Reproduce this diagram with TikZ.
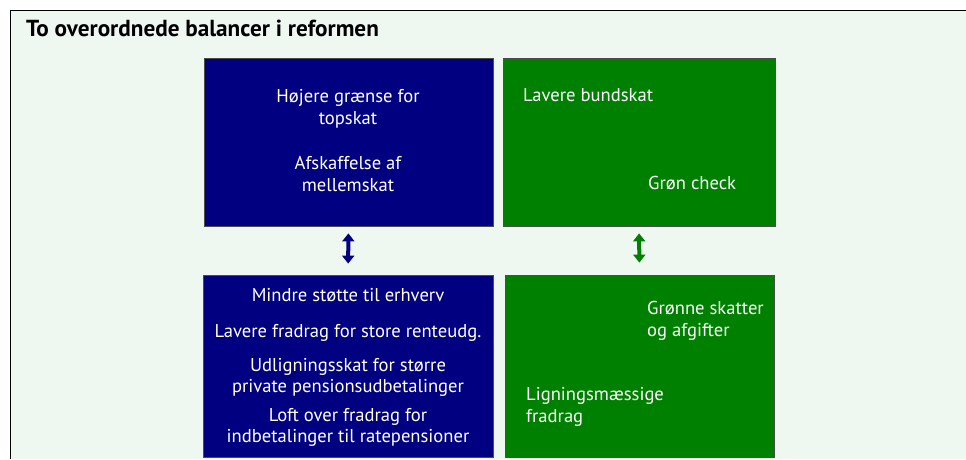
\documentclass[tikz,border=0pt]{standalone}
\usepackage{fontspec}
\setmainfont{PT Sans}
\usetikzlibrary{arrows.meta}
\definecolor{panel}{RGB}{239,247,241}
\definecolor{darkblue}{RGB}{0,0,128}
\definecolor{darkgreen}{RGB}{0,128,0}
\pgfdeclarelayer{bg}
\pgfsetlayers{bg,main}
\tikzset{
    box/.style={draw=black!70, line width=0.8pt, inner sep=0mm},
    bluebox/.style={box, fill=darkblue},
    greenbox/.style={box, fill=darkgreen},
    boxtext/.style={inner sep=0mm, text=white, font=\fontsize{18.6}{21.5}\selectfont},
    balance/.style={line width=4pt, {Triangle[width=12pt,length=8pt]}-{Triangle[width=12pt,length=8pt]}}
}

\begin{document}
\begin{tikzpicture}[x=1pt, y=1pt]
    \useasboundingbox (0,0) rectangle (966,459);
    \fill[white] (0,0) rectangle (966,459);
    \fill[panel] (10,0) rectangle (966,449);
    \draw[line width=0.8pt] (10,0) -- (10,449) -- (966,449);

    \node (title) at (26, 431) [anchor=west, inner sep=0mm, font=\fontsize{23.2}{26}\selectfont\bfseries] {To overordnede balancer i reformen};

    \node (topblue) at (348.5, 317) [bluebox, minimum width=289pt, minimum height=168pt] {};
    \node (topgreen) at (639, 317) [greenbox, minimum width=272pt, minimum height=168pt] {};
    \node (botblue) at (348, 93) [bluebox, minimum width=290pt, minimum height=182pt] {};
    \node (botgreen) at (639.5, 93) [greenbox, minimum width=269pt, minimum height=182pt] {};

    \node (topskat) at (348, 350) [boxtext, align=center] {Højere grænse for\\topskat};
    \node (mellemskat) at (348, 285) [boxtext, align=center] {Afskaffelse af\\mellemskat};

    \node (bundskat) at (523, 364) [boxtext, anchor=west] {Lavere bundskat};
    \node (check) at (648, 276) [boxtext, anchor=west] {Grøn check};

    \node (erhverv) at (348, 164) [boxtext] {Mindre støtte til erhverv};
    \node (renteudg) at (348, 126) [boxtext] {Lavere fradrag for store renteudg.};
    \node (udligning) at (348, 81.5) [boxtext, align=center] {Udligningsskat for større\\private pensionsudbetalinger};
    \node (loft) at (348, 31.5) [boxtext, align=center] {Loft over fradrag for\\indbetalinger til ratepensioner};

    \node (afgifter) at (647, 138) [boxtext, anchor=west, align=left] {Grønne skatter\\og afgifter};
    \node (fradrag) at (526, 52) [boxtext, anchor=west, align=left] {Ligningsmæssige\\fradrag};

    \draw[balance, darkblue, shorten <=7pt, shorten >=11pt] (topblue.south) -- (botblue.north);
    \draw[balance, darkgreen, shorten <=7pt, shorten >=12pt] (topgreen.south) -- (botgreen.north);
\end{tikzpicture}
\end{document}
